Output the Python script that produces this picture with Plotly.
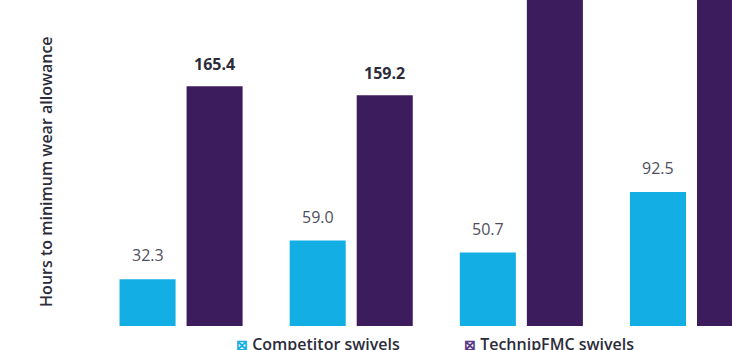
import plotly.graph_objects as go

# Swivel wear test results (hours to minimum wear allowance)
groups = ["Test 1", "Test 2", "Test 3", "Test 4"]
competitor = [32.3, 59.0, 50.7, 92.5]
technipfmc = [165.4, 159.2, 268.1, 310.6]
series_names = ["Competitor swivels", "TechnipFMC swivels"]

BLUE = "#12aee4"
PURPLE = "#3d1c5e"
DARK = "#2c2c3a"
GREY = "#4f4f5c"
FONT = "Open Sans"

x_pos = list(range(len(groups)))
bargap = 0.212
bargroupgap = 0.164
half_slot = (1 - bargap) / 4  # centre offset of each bar within its group

fig = go.Figure()
fig.add_trace(go.Bar(x=x_pos, y=competitor, name=series_names[0],
                     marker=dict(color=BLUE, line=dict(width=0))))
fig.add_trace(go.Bar(x=x_pos, y=technipfmc, name=series_names[1],
                     marker=dict(color=PURPLE, line=dict(width=0))))

annotations = []
for i, v in enumerate(competitor):
    annotations.append(dict(
        x=i - half_slot, y=v, xref="x", yref="y", text=f"{v:.1f}",
        showarrow=False, yanchor="bottom", yshift=11,
        font=dict(family=FONT, size=16, color=GREY, weight=400)))
for i, v in enumerate(technipfmc):
    annotations.append(dict(
        x=i + half_slot, y=v, xref="x", yref="y", text=f"{v:.1f}",
        showarrow=False, yanchor="bottom", yshift=9,
        font=dict(family=FONT, size=16, color=DARK, weight=700)))

# axis title
annotations.append(dict(
    x=-0.079, y=0.475, xref="paper", yref="paper", textangle=-90,
    text="Hours to minimum wear allowance", showarrow=False,
    xanchor="center", yanchor="middle",
    font=dict(family=FONT, size=16, color=DARK, weight=600)))

# legend entries
for name, color, lx in [(series_names[0], BLUE, 0.217), (series_names[1], "#5a3a85", 0.575)]:
    annotations.append(dict(
        x=lx, y=-0.015, xref="paper", yref="paper", showarrow=False,
        xanchor="left", yanchor="top",
        text=f"<span style='color:{color};font-size:14px'>⊠</span> {name}",
        font=dict(family=FONT, size=16, color=DARK, weight=600)))

fig.update_layout(
    width=732, height=350,
    margin=dict(l=96, r=0, t=0, b=24),
    paper_bgcolor="white", plot_bgcolor="white",
    barmode="group", bargap=bargap, bargroupgap=bargroupgap,
    showlegend=False,
    xaxis=dict(range=[-0.5, 3.238], showticklabels=False, showgrid=False,
               zeroline=False, showline=False, ticks=""),
    yaxis=dict(range=[0, 225], showticklabels=False, showgrid=False,
               zeroline=False, showline=False, ticks=""),
    annotations=annotations,
)

fig.write_html("out.html")
